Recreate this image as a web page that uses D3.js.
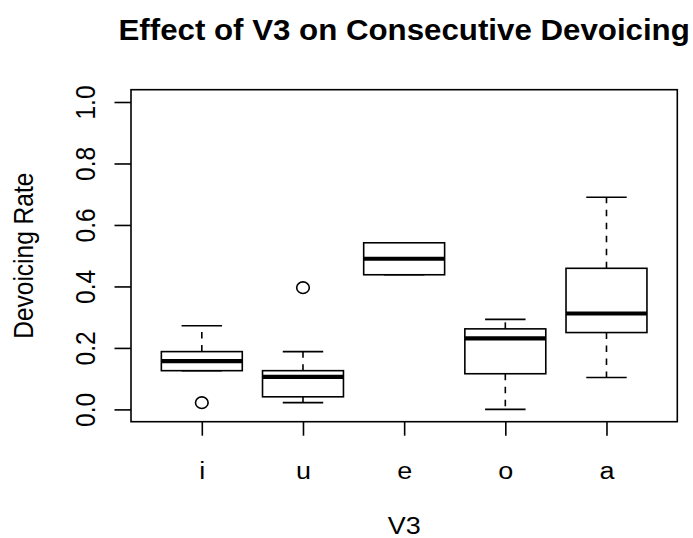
<!DOCTYPE html>
<html>
<head>
<meta charset="utf-8">
<script src="https://cdn.jsdelivr.net/npm/d3@7"></script>
<style>
  html, body { margin: 0; padding: 0; background: #fff; }
  svg { display: block; }
  text { font-family: "Liberation Sans", Arial, Helvetica, sans-serif; fill: #000; }
</style>
</head>
<body>
<svg id="chart" width="693" height="538"></svg>
<script>
// ---- data ----
const categories   = ["i", "u", "e", "o", "a"];
const whiskerLow   = [0.126, 0.022, 0.438, 0.000, 0.104];
const quartile1    = [0.126, 0.041, 0.438, 0.116, 0.250];
const medians      = [0.157, 0.106, 0.490, 0.231, 0.312];
const quartile3    = [0.188, 0.126, 0.542, 0.262, 0.459];
const whiskerHigh  = [0.272, 0.188, 0.542, 0.293, 0.690];
const outlierCats  = ["i", "u"];
const outlierVals  = [0.022, 0.396];
const yTickValues  = [0, 0.2, 0.4, 0.6, 0.8, 1.0];
const titleText    = "Effect of V3 on Consecutive Devoicing";
const xLabelText   = "V3";
const yLabelText   = "Devoicing Rate";

// ---- layout ----
const W = 693, H = 538;
const plot = { left: 131, right: 677.3, top: 89.7, bottom: 421.7 };
const SX = 1.1; // horizontal text stretch seen in reference

const svg = d3.select("#chart");
svg.append("rect").attr("width", W).attr("height", H).attr("fill", "#fff");

const x = d3.scalePoint().domain(categories)
  .range([plot.left, plot.right]).padding(0.7);
const y = d3.scaleLinear().domain([-0.04, 1.04])
  .range([plot.bottom, plot.top]);

const step = x.step();
const boxW = 0.8 * step;
const capW = 0.4 * step;

const boxes = categories.map((c, i) => ({
  cat: c, lo: whiskerLow[i], q1: quartile1[i], med: medians[i],
  q3: quartile3[i], hi: whiskerHigh[i]
}));

const g = svg.append("g");

// whiskers (dashed), from box edges outward
const wh = g.append("g").attr("stroke", "#000").attr("stroke-width", 1.6)
  .attr("stroke-dasharray", "6.5,6.5").attr("fill", "none");
boxes.forEach(b => {
  if (b.hi > b.q3) wh.append("line")
    .attr("x1", x(b.cat)).attr("x2", x(b.cat))
    .attr("y1", y(b.q3)).attr("y2", y(b.hi));
  if (b.lo < b.q1) wh.append("line")
    .attr("x1", x(b.cat)).attr("x2", x(b.cat))
    .attr("y1", y(b.q1)).attr("y2", y(b.lo));
});

// staples
const st = g.append("g").attr("stroke", "#000").attr("stroke-width", 1.6);
boxes.forEach(b => {
  [b.lo, b.hi].forEach(v => {
    st.append("line")
      .attr("x1", x(b.cat) - capW / 2).attr("x2", x(b.cat) + capW / 2)
      .attr("y1", y(v)).attr("y2", y(v));
  });
});

// boxes
g.append("g").selectAll("rect").data(boxes).join("rect")
  .attr("x", d => x(d.cat) - boxW / 2)
  .attr("width", boxW)
  .attr("y", d => y(d.q3))
  .attr("height", d => y(d.q1) - y(d.q3))
  .attr("fill", "#fff").attr("stroke", "#000").attr("stroke-width", 1.6);

// medians
g.append("g").selectAll("line").data(boxes).join("line")
  .attr("x1", d => x(d.cat) - boxW / 2)
  .attr("x2", d => x(d.cat) + boxW / 2)
  .attr("y1", d => y(d.med)).attr("y2", d => y(d.med))
  .attr("stroke", "#000").attr("stroke-width", 4.2);

// outliers
g.append("g").selectAll("ellipse").data(outlierCats.map((c, i) => ({ c, v: outlierVals[i] })))
  .join("ellipse")
  .attr("cx", d => x(d.c)).attr("cy", d => y(d.v))
  .attr("rx", 6.3).attr("ry", 5.8)
  .attr("fill", "none").attr("stroke", "#000").attr("stroke-width", 1.6);

// plot border
svg.append("rect")
  .attr("x", plot.left).attr("y", plot.top)
  .attr("width", plot.right - plot.left).attr("height", plot.bottom - plot.top)
  .attr("fill", "none").attr("stroke", "#000").attr("stroke-width", 1.6);

// y axis
const yAxis = svg.append("g")
  .attr("transform", `translate(${plot.left},0)`)
  .call(d3.axisLeft(y).tickValues(yTickValues).tickFormat(d3.format(".1f"))
    .tickSize(16.5).tickPadding(0));
yAxis.select(".domain").remove();
yAxis.selectAll(".tick line").attr("stroke", "#000").attr("stroke-width", 1.6);
yAxis.selectAll(".tick text")
  .attr("x", null).attr("dy", null)
  .attr("text-anchor", "middle")
  .attr("font-size", 24.5)
  .attr("transform", `translate(${95 - plot.left},0) scale(${SX},1) rotate(-90)`);

// x axis
const xAxis = svg.append("g")
  .attr("transform", `translate(0,${plot.bottom})`)
  .call(d3.axisBottom(x).tickSize(14).tickPadding(0));
xAxis.select(".domain").remove();
xAxis.selectAll(".tick line").attr("stroke", "#000").attr("stroke-width", 1.6);
xAxis.selectAll(".tick text")
  .attr("y", null).attr("dy", null)
  .attr("text-anchor", "middle")
  .attr("font-size", 24.5)
  .attr("transform", `translate(0,${479 - plot.bottom}) scale(${SX},1)`);

const midX = (plot.left + plot.right) / 2;
const midY = (plot.top + plot.bottom) / 2;

// title
svg.append("text")
  .attr("transform", `translate(${midX},40) scale(${SX * 0.98},1)`)
  .attr("text-anchor", "middle")
  .attr("font-size", 29).attr("font-weight", "bold")
  .text(titleText);

// x label
svg.append("text")
  .attr("transform", `translate(${midX},534) scale(${SX},1)`)
  .attr("text-anchor", "middle")
  .attr("font-size", 24.5)
  .text(xLabelText);

// y label
svg.append("text")
  .attr("transform", `translate(32.7,${midY}) scale(${SX},1) rotate(-90)`)
  .attr("text-anchor", "middle")
  .attr("font-size", 24.5)
  .text(yLabelText);
</script>
</body>
</html>
